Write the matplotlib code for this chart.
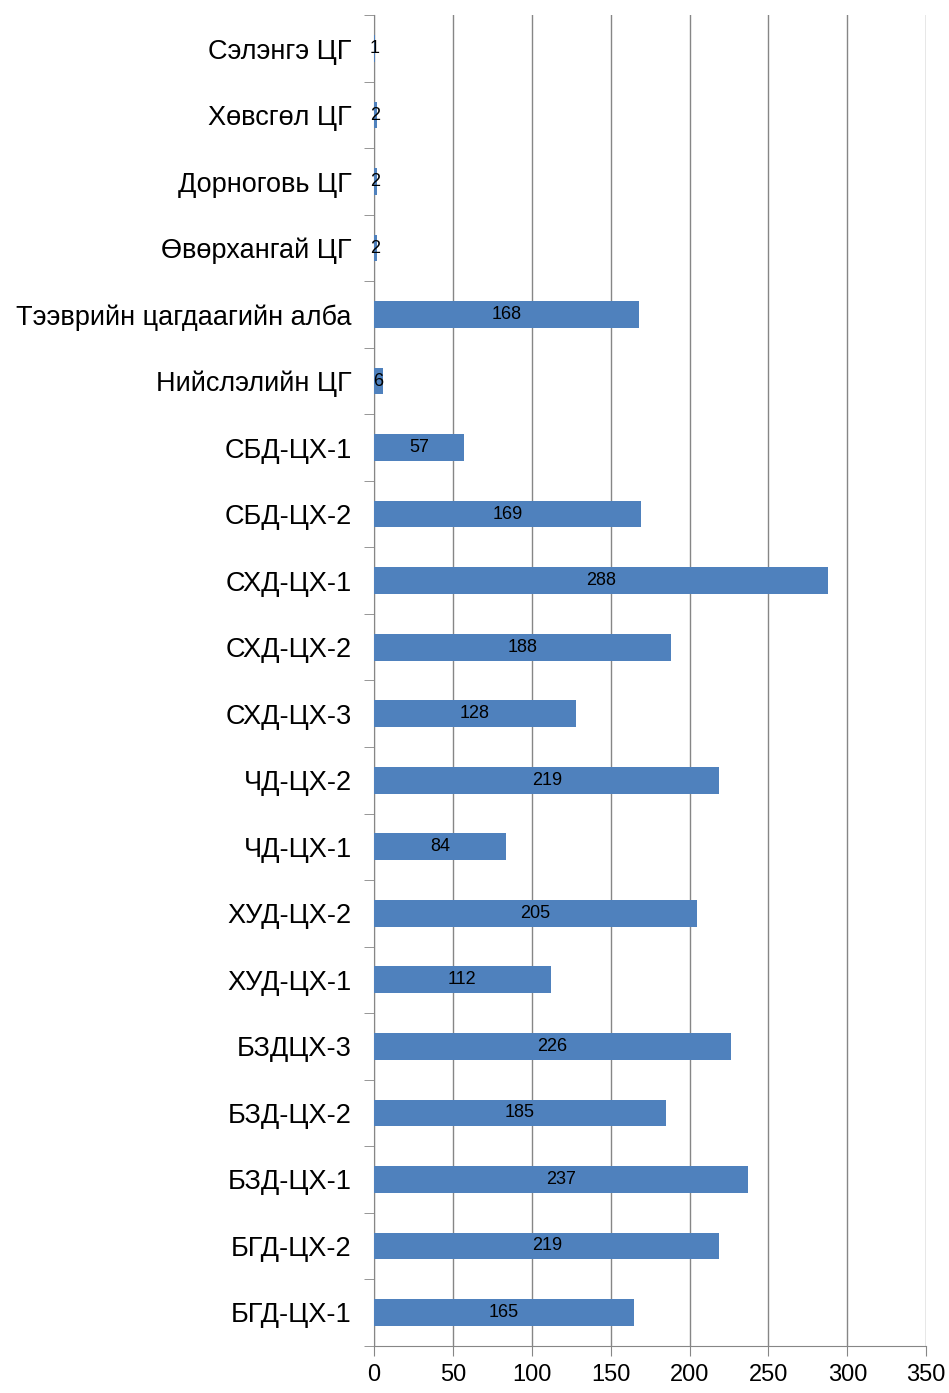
#!/usr/bin/env python3
import numpy as np
import matplotlib.pyplot as plt

plt.rcParams['font.family'] = ['Liberation Sans', 'DejaVu Sans']

# categories listed bottom to top
units = ['БГД-ЦХ-1', 'БГД-ЦХ-2', 'БЗД-ЦХ-1', 'БЗД-ЦХ-2', 'БЗДЦХ-3',
         'ХУД-ЦХ-1', 'ХУД-ЦХ-2', 'ЧД-ЦХ-1', 'ЧД-ЦХ-2', 'СХД-ЦХ-3',
         'СХД-ЦХ-2', 'СХД-ЦХ-1', 'СБД-ЦХ-2', 'СБД-ЦХ-1', 'Нийслэлийн ЦГ',
         'Тээврийн цагдаагийн алба', 'Өвөрхангай ЦГ', 'Дорноговь ЦГ',
         'Хөвсгөл ЦГ', 'Сэлэнгэ ЦГ']
counts = [165, 219, 237, 185, 226, 112, 205, 84, 219, 128,
          188, 288, 169, 57, 6, 168, 2, 2, 2, 1]
xticks = [0, 50, 100, 150, 200, 250, 300, 350]

fig = plt.figure(figsize=(9.49, 13.93), dpi=100)
ax = fig.add_axes([0.394, 0.034, 0.582, 0.955])

y = np.arange(len(units))
ax.barh(y, counts, height=0.4, color='#4f81bd', zorder=3)
for yi, v in zip(y, counts):
    ax.text(v / 2, yi, str(v), ha='center', va='center', fontsize=13,
            color='black', zorder=4)

ax.set_xlim(0, 350)
ax.set_ylim(-0.5, len(units) - 0.5)
ax.set_xticks(xticks)
ax.set_xticklabels([str(t) for t in xticks], fontsize=17)
ax.set_yticks(y)
ax.set_yticklabels(units, fontsize=19.5)
ax.set_yticks(np.arange(-0.5, len(units)), minor=True)
ax.tick_params(axis='y', which='major', length=0, pad=16)
ax.tick_params(axis='y', which='minor', length=7, color='#868686')
ax.tick_params(axis='x', length=7, color='#868686', pad=6)

ax.grid(axis='x', color='#868686', linewidth=1.0, zorder=0)
for s in ['top', 'right']:
    ax.spines[s].set_visible(False)
for s in ['left', 'bottom']:
    ax.spines[s].set_color('#868686')

fig.savefig('out.png', dpi=100)
